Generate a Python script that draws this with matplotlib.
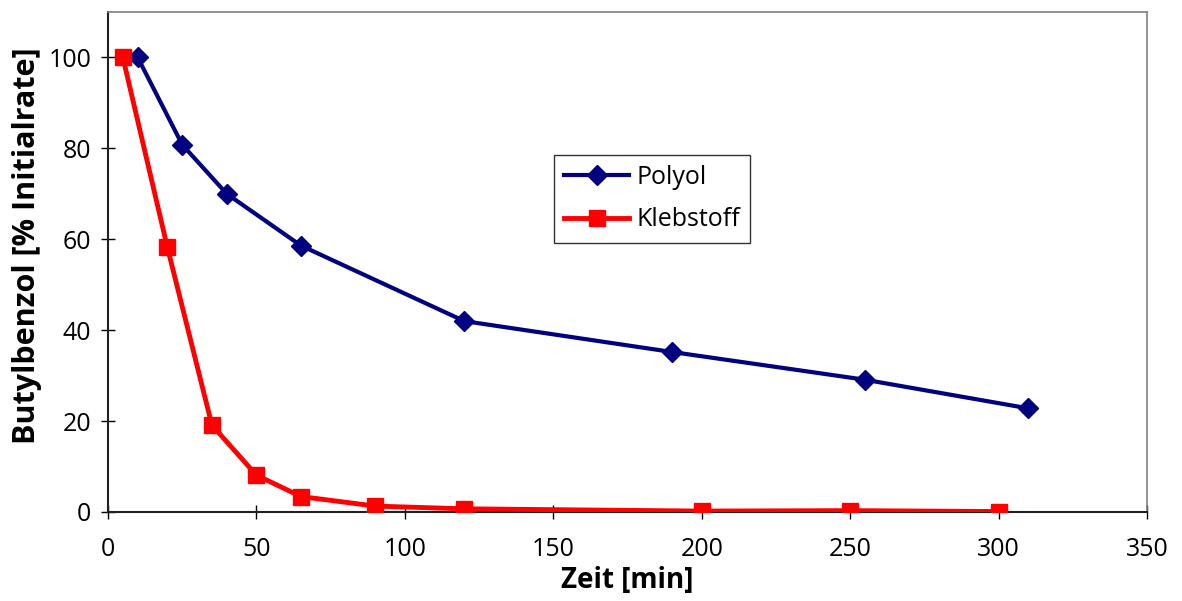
import matplotlib
matplotlib.use("Agg")
import matplotlib.pyplot as plt

plt.rcParams['font.family'] = ['Open Sans', 'DejaVu Sans']

# Polyol series
polyol_t = [10, 25, 40, 65, 120, 190, 255, 310]
polyol_v = [100, 80.8, 70.0, 58.6, 42.0, 35.2, 29.1, 22.8]

# Klebstoff series
kleb_t = [5, 20, 35, 50, 65, 90, 120, 200, 250, 300]
kleb_v = [100, 58.2, 19.1, 8.1, 3.4, 1.3, 0.7, 0.2, 0.3, 0.1]

x_ticks = [0, 50, 100, 150, 200, 250, 300, 350]
y_ticks = [0, 20, 40, 60, 80, 100]

fig = plt.figure(figsize=(11.82, 6.01), dpi=100)
ax = fig.add_axes([0.0914, 0.1481, 0.8790, 0.8319])

ax.plot(polyol_t, polyol_v, color='#000080', lw=3, marker='D', ms=10.5,
        mec='#000080', mfc='#000080', label='Polyol', zorder=3)
ax.plot(kleb_t, kleb_v, color='#ff0000', lw=3.5, marker='s', ms=12,
        mec='#ff0000', mfc='#ff0000', label='Klebstoff', zorder=4)

ax.set_xlim(0, 350)
ax.set_ylim(0, 110)
ax.set_xticks(x_ticks)
ax.set_yticks(y_ticks)
ax.tick_params(direction='inout', length=10, width=1, labelsize=18,
               colors='black')
ax.tick_params(axis='x', pad=13)
ax.tick_params(axis='y', pad=7)
for s in ('top', 'right'):
    ax.spines[s].set_color('#808080')
    ax.spines[s].set_linewidth(1.2)
for s in ('left', 'bottom'):
    ax.spines[s].set_color('#202020')
    ax.spines[s].set_linewidth(1.5)

ax.set_xlabel('Zeit [min]', fontsize=20, fontweight='bold', labelpad=3)
ax.set_ylabel('Butylbenzol [% Initialrate]', fontsize=22, fontweight='bold')
ax.yaxis.set_label_coords(27 / 1182, 1 - 246 / 601, transform=fig.transFigure)
ax.yaxis.label.set_verticalalignment('center')

leg = ax.legend(loc='upper left', bbox_to_anchor=(554 / 1182, 1 - 155 / 601),
                bbox_transform=fig.transFigure, fontsize=18, frameon=True,
                fancybox=False, edgecolor='black', borderpad=0.4,
                handlelength=2.6, handletextpad=0.3, labelspacing=0.7,
                borderaxespad=0)
leg.get_frame().set_linewidth(1.0)

fig.savefig('out.png', dpi=100)
